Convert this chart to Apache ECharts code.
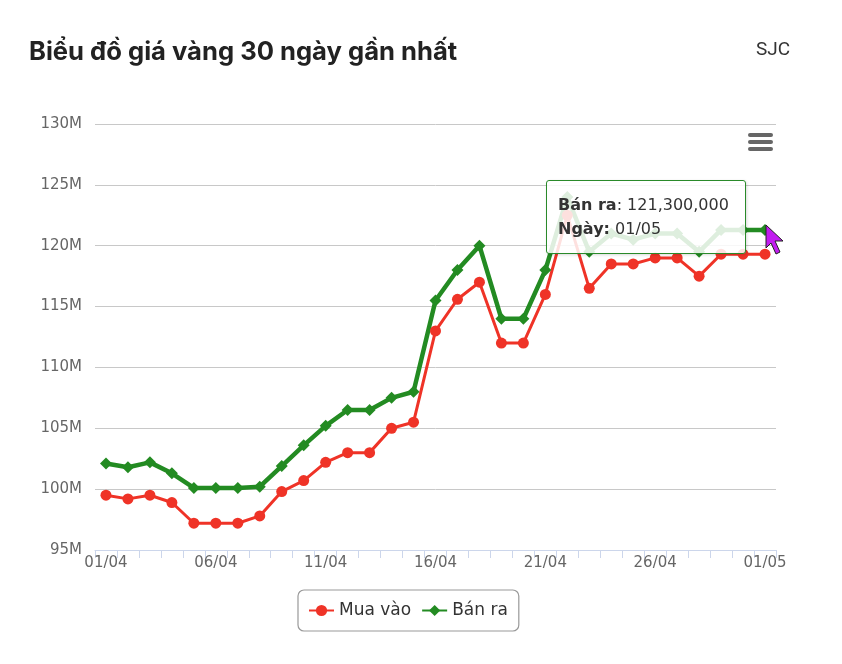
<!DOCTYPE html>
<html lang="vi">
<head>
    <meta charset="utf-8">
    <title>Biểu đồ giá vàng 30 ngày gần nhất</title>
    <script src="https://cdn.jsdelivr.net/npm/echarts@6/dist/echarts.min.js"></script>
    <style>
        html, body { margin: 0; padding: 0; background: #fff; }
        #main { width: 842px; height: 664px; }
    </style>
</head>
<body>
<div id="main"></div>

<script type="text/javascript">

    // ngày
    var ngay = ['01/04','02/04','03/04','04/04','05/04','06/04','07/04','08/04','09/04','10/04',
                '11/04','12/04','13/04','14/04','15/04','16/04','17/04','18/04','19/04','20/04',
                '21/04','22/04','23/04','24/04','25/04','26/04','27/04','28/04','29/04','30/04','01/05'];

    // giá mua vào (VND)
    var muaVao = [99500000, 99200000, 99500000, 98900000, 97200000, 97200000, 97200000, 97800000, 99800000, 100700000,
                  102200000, 103000000, 103000000, 105000000, 105500000, 113000000, 115600000, 117000000, 112000000, 112000000,
                  116000000, 122500000, 116500000, 118500000, 118500000, 119000000, 119000000, 117500000, 119300000, 119300000, 119300000];

    // giá bán ra (VND)
    var banRa = [102100000, 101800000, 102200000, 101300000, 100100000, 100100000, 100100000, 100200000, 101900000, 103600000,
                 105200000, 106500000, 106500000, 107500000, 108000000, 115500000, 118000000, 120000000, 114000000, 114000000,
                 118000000, 124000000, 119500000, 121000000, 120500000, 121000000, 121000000, 119500000, 121300000, 121300000, 121300000];

    var yTicks = { min: 95000000, max: 130000000, step: 5000000 };

    var txtFont = 'DejaVu Sans';

    var myChart = echarts.init(document.getElementById('main'), null, { renderer: 'canvas' });

    myChart.setOption({
        animation: false,
        title: [{
            text: 'Biểu đồ giá vàng 30 ngày gần nhất',
            left: 24, top: 34,
            textStyle: { fontFamily: 'Inter', fontSize: 25.6, fontWeight: 'bold', color: '#222' }
        }, {
            text: 'SJC',
            left: 751, top: 36,
            textStyle: { fontFamily: 'Roboto', fontSize: 19, fontWeight: 'normal', color: '#333' }
        }],
        grid: { left: 95, right: 66, top: 124, bottom: 114 },
        legend: {
            data: ['Mua vào', 'Bán ra'],
            left: 298, top: 590,
            padding: [12, 11, 12, 10],
            itemGap: 10,
            itemWidth: 25, itemHeight: 14,
            borderColor: '#999', borderWidth: 1.2, borderRadius: 6,
            textStyle: { fontFamily: txtFont, fontSize: 17, color: '#333' }
        },
        tooltip: {
            trigger: 'item',
            triggerOn: 'none',
            alwaysShowContent: true,
            backgroundColor: 'rgba(255,255,255,0.85)',
            borderColor: '#2a8a2a',
            borderWidth: 1,
            padding: [12, 11, 12, 11],
            extraCssText: 'box-shadow:1px 1px 3px rgba(0,0,0,0.15);border-radius:3px;width:176px;',
            textStyle: { fontFamily: txtFont, fontSize: 16, color: '#333', lineHeight: 24 },
            position: function () { return [546, 180]; },
            formatter: function (p) {
                return '<b>' + p.seriesName + '</b>: ' + Number(p.value).toLocaleString('en-US') +
                       '<br><b>Ngày:</b> ' + p.name;
            }
        },
        xAxis: {
            type: 'category',
            data: ngay,
            boundaryGap: true,
            axisLine: { lineStyle: { color: '#ccd6eb', width: 1 } },
            axisTick: { show: true, length: 8, interval: 0, lineStyle: { color: '#ccd6eb' } },
            axisLabel: { interval: 4, margin: 6, fontFamily: txtFont, fontSize: 15, color: '#666' },
            splitLine: { show: false }
        },
        yAxis: {
            type: 'value',
            min: yTicks.min, max: yTicks.max, interval: yTicks.step,
            axisLine: { show: false },
            axisTick: { show: false },
            axisLabel: {
                margin: 13, fontFamily: txtFont, fontSize: 15, color: '#666',
                formatter: function (v) { return (v / 1000000) + 'M'; }
            },
            splitLine: { lineStyle: { color: '#c8c8c8', width: 1 } }
        },
        series: [{
            name: 'Mua vào',
            type: 'line',
            data: muaVao,
            symbol: 'circle',
            symbolSize: 11,
            lineStyle: { color: '#ef3327', width: 3 },
            itemStyle: { color: '#ef3327' },
            emphasis: { disabled: true }
        }, {
            name: 'Bán ra',
            type: 'line',
            data: banRa,
            symbol: 'diamond',
            symbolSize: 12,
            lineStyle: { color: '#238b22', width: 4.5 },
            itemStyle: { color: '#238b22' },
            emphasis: { disabled: true }
        }],
        graphic: [
            // menu icon
            { type: 'rect', left: 748, top: 133, shape: { width: 25, height: 4, r: 2 }, style: { fill: '#666' } },
            { type: 'rect', left: 748, top: 140, shape: { width: 25, height: 4, r: 2 }, style: { fill: '#666' } },
            { type: 'rect', left: 748, top: 147, shape: { width: 25, height: 4, r: 2 }, style: { fill: '#666' } },
            // mouse cursor
            { type: 'polygon', z: 100,
              shape: { points: [[766,225],[766,248],[771,243],[776,254],[780,252],[775,241],[783,241]] },
              style: { fill: '#c21cf0', stroke: '#222', lineWidth: 1 } }
        ]
    });

    myChart.dispatchAction({ type: 'showTip', seriesIndex: 1, dataIndex: ngay.length - 1 });

</script>
</body>
</html>
